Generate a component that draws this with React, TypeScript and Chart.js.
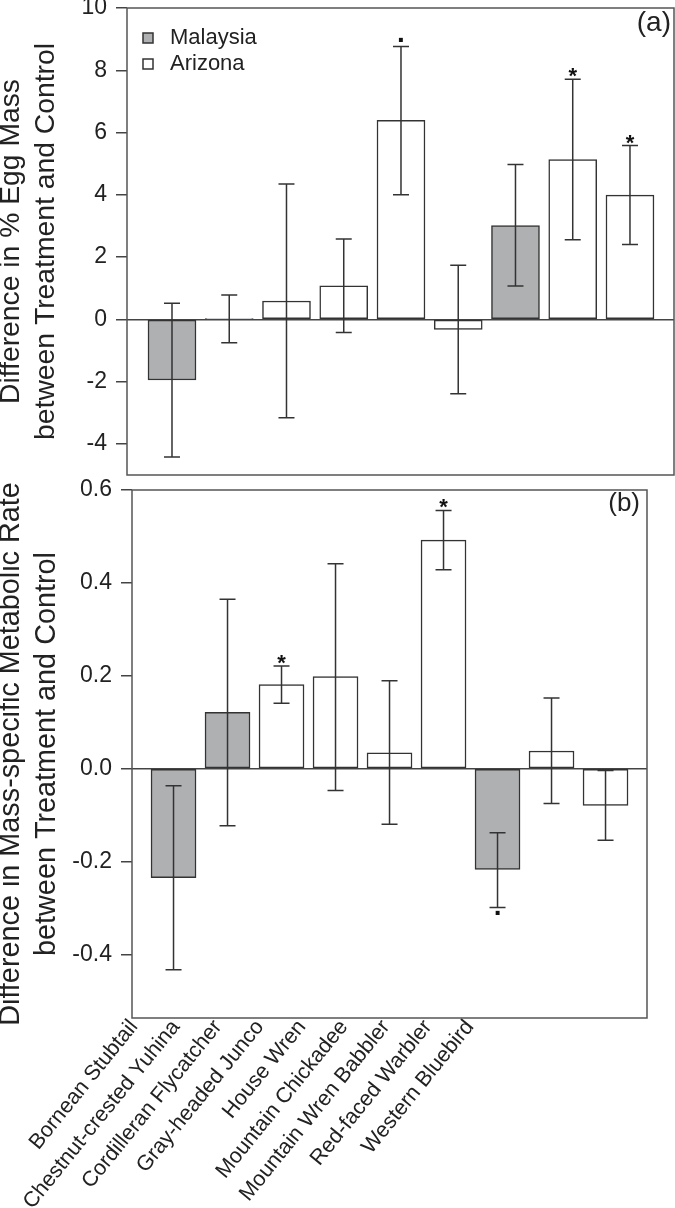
import React, { useEffect, useRef } from 'react';
import { Chart, registerables } from 'chart.js';

Chart.register(...registerables);

// ---------- data ----------
const species = [
  'Bornean Stubtail',
  'Chestnut-crested Yuhina',
  'Cordilleran Flycatcher',
  'Gray-headed Junco',
  'House Wren',
  'Mountain Chickadee',
  'Mountain Wren Babbler',
  'Red-faced Warbler',
  'Western Bluebird',
];
const region = ['Malaysia', 'Malaysia', 'Arizona', 'Arizona', 'Arizona', 'Arizona', 'Malaysia', 'Arizona', 'Arizona'];
const regions = ['Malaysia', 'Arizona'];
const regionFill = ['#afb0b2', '#ffffff'];

const eggMean = [-1.95, 0.02, 0.59, 1.08, 6.39, -0.32, 3.01, 5.13, 3.99];
const eggUpper = [0.52, 0.78, 4.35, 2.58, 8.76, 1.74, 4.97, 7.71, 5.58];
const eggLower = [-4.42, -0.75, -3.16, -0.42, 4.0, -2.39, 1.07, 2.56, 2.4];
const eggSig = ['', '', '', '', '.', '', '', '*', '*'];
const eggTicks = [-4, -2, 0, 2, 4, 6, 8, 10];
const eggTitle = ['Difference in % Egg Mass', 'between Treatment and Control'];

const metMean = [-0.235, 0.121, 0.181, 0.198, 0.034, 0.492, -0.217, 0.038, -0.079];
const metUpper = [-0.037, 0.365, 0.221, 0.441, 0.189, 0.556, -0.138, 0.152, -0.004];
const metLower = [-0.433, -0.123, 0.141, -0.047, -0.12, 0.428, -0.299, -0.075, -0.154];
const metSig = ['', '', '*', '', '', '*', '.', '', ''];
const metTicks = [-0.4, -0.2, 0, 0.2, 0.4, 0.6];
const metTitle = ['Difference in Mass-specific Metabolic Rate', 'between Treatment and Control'];

// ---------- styles ----------
const FONT = "'Liberation Sans', Arial, Helvetica, sans-serif";
const INK = '#333333';
const TEXT = '#222222';
const FRAME = '#555555';

function makeDatasets(mean: number[], barThickness: number) {
  return regions.map((r, k) => ({
    label: r,
    data: mean.map((v, i) => ({ x: i, y: v })).filter((_, i) => region[i] === r),
    backgroundColor: regionFill[k],
    borderColor: INK,
    borderWidth: 1.5,
    borderSkipped: false,
    barThickness,
    grouped: false,
  }));
}

function makeAnnotations(
  mean: number[],
  upper: number[],
  lower: number[],
  sig: string[],
  panelLabel: string,
  labelSize: number,
  labelDx: number
) {
  return {
    id: 'annot',
    afterDatasetsDraw(chart: any) {
      const { ctx } = chart;
      const xs = chart.scales.x;
      const ys = chart.scales.y;
      ctx.save();
      ctx.strokeStyle = INK;
      ctx.lineWidth = 1.5;
      for (let i = 0; i < mean.length; i++) {
        const px = xs.getPixelForValue(i);
        const yHi = ys.getPixelForValue(upper[i]);
        const yLo = ys.getPixelForValue(lower[i]);
        ctx.beginPath();
        ctx.moveTo(px, yHi);
        ctx.lineTo(px, yLo);
        ctx.moveTo(px - 8, yHi);
        ctx.lineTo(px + 8, yHi);
        ctx.moveTo(px - 8, yLo);
        ctx.lineTo(px + 8, yLo);
        ctx.stroke();
        const s = sig[i];
        if (s) {
          ctx.fillStyle = '#111';
          ctx.textAlign = 'center';
          ctx.textBaseline = 'alphabetic';
          if (s === '*') {
            ctx.font = `bold 22px ${FONT}`;
            if (mean[i] >= 0) ctx.fillText(s, px, yHi + 4);
            else ctx.fillText(s, px, yLo + 20);
          } else {
            ctx.font = `bold 28px ${FONT}`;
            if (mean[i] >= 0) ctx.fillText(s, px, yHi - 5);
            else ctx.fillText(s, px, yLo + 8);
          }
        }
      }
      ctx.restore();
    },
    afterDraw(chart: any) {
      const { ctx, chartArea: a } = chart;
      ctx.save();
      ctx.strokeStyle = FRAME;
      ctx.lineWidth = 1.5;
      ctx.strokeRect(a.left, a.top, a.right - a.left, a.bottom - a.top);
      ctx.fillStyle = TEXT;
      ctx.font = `${labelSize}px ${FONT}`;
      ctx.textAlign = 'right';
      ctx.textBaseline = 'top';
      ctx.fillText(panelLabel, a.right - labelDx, a.top + 1);
      ctx.restore();
    },
  };
}

const legendShift = {
  id: 'legendShift',
  afterLayout(chart: any) {
    const lg = chart.legend;
    if (lg) {
      lg.left += 6;
      lg.right += 6;
      lg.top += 23;
      lg.bottom += 23;
    }
  },
};

function yAxis(
  ticks: number[],
  min: number,
  max: number,
  title: string[],
  width: number,
  titleSize: number,
  fmt: (v: number) => string
) {
  return {
    type: 'linear',
    min,
    max,
    afterBuildTicks: (s: any) => {
      s.ticks = ticks.map((value) => ({ value }));
    },
    afterFit: (s: any) => {
      s.width = width;
      s.paddingTop = 0;
      s.paddingBottom = 0;
    },
    ticks: {
      font: { family: FONT, size: 23 },
      color: TEXT,
      padding: 9,
      callback: (v: any) => fmt(Number(v)),
    },
    grid: {
      color: (c: any) => (c.tick && Math.abs(c.tick.value) < 1e-9 ? '#444' : 'rgba(0,0,0,0)'),
      lineWidth: 1.5,
      tickColor: '#444',
      tickLength: 11,
      tickWidth: 1.5,
    },
    border: { display: false },
    title: {
      display: true,
      text: title,
      color: TEXT,
      font: { family: FONT, size: titleSize, lineHeight: 1.25 },
      padding: { top: -6.5, bottom: 0 },
    },
  };
}

export default function App() {
  const refA = useRef<HTMLCanvasElement>(null);
  const refB = useRef<HTMLCanvasElement>(null);

  useEffect(() => {
    const chartA = new Chart(refA.current as HTMLCanvasElement, {
      type: 'bar',
      data: { datasets: makeDatasets(eggMean, 48) as any },
      options: {
        animation: false,
        responsive: false,
        layout: { padding: { top: 8, right: 1, bottom: 5, left: 0 } },
        scales: {
          x: { type: 'linear', display: false, min: -0.786, max: 8.769, offset: false },
          y: yAxis(eggTicks, -5, 10, eggTitle, 127, 28.3, (v) => String(Math.round(v))) as any,
        },
        plugins: {
          tooltip: { enabled: false },
          legend: {
            position: 'chartArea',
            align: 'start',
            labels: {
              usePointStyle: true,
              pointStyle: 'rect',
              boxWidth: 22,
              boxHeight: 10,
              padding: 4,
              color: TEXT,
              font: { family: FONT, size: 22 },
            },
          } as any,
        },
      },
      plugins: [makeAnnotations(eggMean, eggUpper, eggLower, eggSig, '(a)', 28, 3), legendShift],
    });

    const chartB = new Chart(refB.current as HTMLCanvasElement, {
      type: 'bar',
      data: { datasets: makeDatasets(metMean, 45) as any },
      options: {
        animation: false,
        responsive: false,
        layout: { padding: { top: 50, right: 28, bottom: 0, left: 0 } },
        scales: {
          x: { type: 'linear', display: false, min: -0.769, max: 8.768, offset: false },
          xl: {
            type: 'linear',
            position: 'bottom',
            offset: false,
            min: -0.0476,
            max: 12.214,
            afterBuildTicks: (s: any) => {
              s.ticks = species.map((_, i) => ({ value: i }));
            },
            afterFit: (s: any) => {
              s.height = 190;
            },
            grid: { display: false, drawTicks: false, offset: false },
            border: { display: false },
            ticks: {
              autoSkip: false,
              minRotation: 51,
              maxRotation: 51,
              padding: -3,
              color: TEXT,
              font: { family: FONT, size: 21.5 },
              callback: (v: any) => species[Number(v)] ?? '',
            },
          } as any,
          y: yAxis(metTicks, -0.537, 0.6, metTitle, 132, 28.8, (v) =>
            Math.abs(v) < 1e-9 ? '0.0' : v.toFixed(1)
          ) as any,
        },
        plugins: {
          tooltip: { enabled: false },
          legend: { display: false },
        },
      },
      plugins: [makeAnnotations(metMean, metUpper, metLower, metSig, '(b)', 26, 7)],
    });

    return () => {
      chartA.destroy();
      chartB.destroy();
    };
  }, []);

  return (
    <div style={{ position: 'absolute', left: 0, top: 0, width: 675, height: 1208, background: '#ffffff' }}>
      <canvas ref={refA} width={675} height={480} style={{ position: 'absolute', left: 0, top: 0 }} />
      <canvas ref={refB} width={675} height={768} style={{ position: 'absolute', left: 0, top: 440 }} />
    </div>
  );
}
